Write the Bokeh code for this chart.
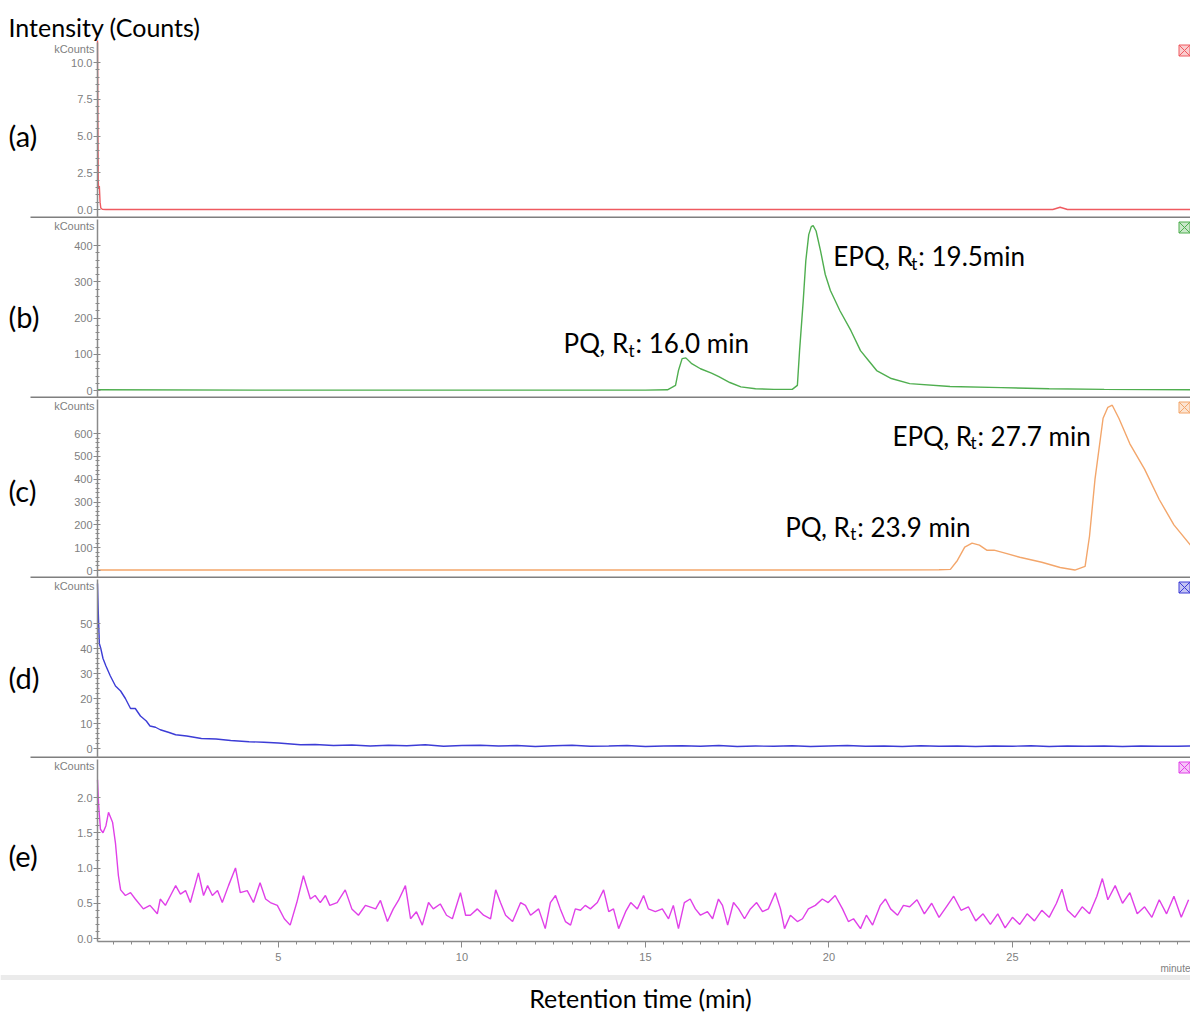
import numpy as np
from bokeh.plotting import figure
from bokeh.layouts import column
from bokeh.models import Range1d, Label, FixedTicker, NumeralTickFormatter, LinearAxis
from bokeh.embed import file_html
from bokeh.resources import INLINE

# ---------------- data ----------------
a_time = [0.07, 0.08, 0.09, 0.10, 0.12, 0.14, 0.16, 0.2, 0.3, 5, 10, 15, 20, 25, 26.1, 26.3, 26.5, 29.85]
a_counts = [11.5, 6.0, 2.0, 1.4, 1.6, 0.5, 0.1, 0.02, 0.0, 0.0, 0.0, 0.0, 0.0, 0.0, 0.0, 0.15, 0.0, 0.0]

b_time = [0.07, 5, 10, 15, 15.6, 15.82, 15.9, 16.0, 16.1, 16.25, 16.5, 16.8, 17.0, 17.3, 17.6, 18.0,
          18.5, 19.0, 19.14, 19.2, 19.3, 19.37, 19.45, 19.52, 19.57, 19.65, 19.77, 19.9, 20.04, 20.3,
          20.6, 20.86, 21.1, 21.3, 21.7, 22.2, 23.3, 24.7, 26.0, 27.5, 29.85]
b_counts = [2, 1, 1, 1, 2, 14, 55, 88, 90, 75, 60, 48, 38, 22, 10, 5,
            3, 3, 14, 110, 248, 358, 430, 452, 455, 440, 386, 320, 276, 220,
            165, 110, 80, 55, 33, 19, 11, 8, 5, 3, 2]

c_time = [0.07, 5, 10, 15, 20, 23.0, 23.31, 23.5, 23.7, 23.9, 24.1, 24.3, 24.5, 24.8, 25.2, 25.8,
          26.3, 26.7, 26.98, 27.1, 27.25, 27.47, 27.6, 27.72, 27.9, 28.2, 28.6, 29.0, 29.4, 29.85]
c_counts = [2, 2, 2, 2, 2, 3, 5, 44, 102, 120, 111, 89, 89, 76, 58, 36,
            13, 2, 18, 150, 400, 667, 715, 724, 667, 555, 444, 311, 200, 111]

d_time = [0.07, 0.09, 0.12, 0.16, 0.22, 0.3, 0.42, 0.56, 0.7, 0.83, 0.97, 1.1, 1.24, 1.4, 1.5, 1.65,
          1.78, 2.0, 2.2, 2.5, 2.9, 3.3, 3.7, 4.2, 4.6, 5.0, 5.6, 6.0, 6.5, 7.0, 7.5, 8.0, 8.5, 9.0,
          9.5, 10.0, 10.5, 11.0, 11.5, 12.0, 12.5, 13.0, 13.5, 14.0, 14.5, 15.0, 15.5, 16.0, 16.5,
          17.0, 17.5, 18.0, 18.5, 19.0, 19.5, 20.0, 20.5, 21.0, 21.5, 22.0, 22.5, 23.0, 23.5, 24.0,
          24.5, 25.0, 25.5, 26.0, 26.5, 27.0, 27.5, 28.0, 28.5, 29.0, 29.5, 29.85]
d_counts = [66, 55, 42, 40, 36, 33, 29, 25, 23, 20, 16, 16, 13, 11, 9, 8.5,
            7.5, 6.5, 5.5, 5.0, 4.0, 3.8, 3.2, 2.7, 2.5, 2.2, 1.5, 1.6, 1.2, 1.4, 1.0, 1.3, 1.1, 1.5,
            0.9, 1.2, 1.3, 1.0, 1.2, 0.8, 1.1, 1.3, 0.9, 1.0, 1.2, 0.8, 1.0, 1.1, 0.9,
            1.2, 0.8, 1.0, 0.9, 1.1, 0.8, 1.0, 1.2, 0.9, 1.0, 0.8, 1.1, 0.9, 1.0, 0.8,
            1.0, 0.9, 1.1, 0.8, 1.0, 0.9, 1.0, 0.8, 1.0, 0.9, 0.9, 1.0]

e_time = [0.07, 0.1, 0.15, 0.22, 0.3, 0.37, 0.48, 0.56, 0.64, 0.7, 0.83, 0.97, 1.1, 1.32, 1.5, 1.7,
          1.78, 1.92, 2.06, 2.2, 2.33, 2.47, 2.6, 2.82, 2.96, 3.07, 3.2, 3.34, 3.47, 3.64, 3.83, 3.96,
          4.15, 4.32, 4.5, 4.65, 4.78, 4.97, 5.16, 5.32, 5.5, 5.68, 5.87, 6.0, 6.14, 6.28, 6.4, 6.6,
          6.82, 7.0, 7.18, 7.37, 7.65, 7.78, 7.97, 8.13, 8.27, 8.46, 8.6, 8.76, 8.92, 9.09, 9.22,
          9.41, 9.58, 9.74, 9.96, 10.1, 10.23, 10.42, 10.59, 10.78, 10.92, 11.05, 11.19, 11.38, 11.6,
          11.73, 11.87, 12.09, 12.27, 12.41, 12.55, 12.68, 12.82, 12.96, 13.09, 13.23, 13.36, 13.5,
          13.69, 13.86, 14.0, 14.13, 14.27, 14.46, 14.6, 14.78, 14.95, 15.08, 15.27, 15.46, 15.63,
          15.76, 15.9, 16.06, 16.22, 16.36, 16.5, 16.69, 16.83, 16.99, 17.1, 17.24, 17.4, 17.54,
          17.7, 17.86, 18.03, 18.19, 18.35, 18.54, 18.68, 18.79, 18.95, 19.14, 19.28, 19.44, 19.63,
          19.82, 19.98, 20.17, 20.37, 20.53, 20.67, 20.86, 21.02, 21.19, 21.4, 21.54, 21.68, 21.87,
          22.03, 22.2, 22.4, 22.6, 22.8, 23.0, 23.2, 23.4, 23.6, 23.8, 24.0, 24.2, 24.4, 24.6, 24.8,
          25.0, 25.2, 25.4, 25.6, 25.8, 26.0, 26.2, 26.35, 26.5, 26.7, 26.9, 27.1, 27.3, 27.45,
          27.6, 27.8, 28.0, 28.2, 28.4, 28.6, 28.8, 29.0, 29.2, 29.4, 29.6, 29.8]
e_counts = [2.25, 1.9, 1.55, 1.5, 1.6, 1.79, 1.65, 1.35, 0.89, 0.69, 0.61, 0.65, 0.56, 0.42, 0.47, 0.35,
            0.56, 0.47, 0.61, 0.75, 0.63, 0.68, 0.51, 0.93, 0.61, 0.75, 0.61, 0.68, 0.51, 0.75, 1.0, 0.65,
            0.68, 0.51, 0.79, 0.56, 0.51, 0.47, 0.28, 0.19, 0.51, 0.89, 0.56, 0.61, 0.51, 0.61, 0.47, 0.51,
            0.69, 0.42, 0.33, 0.47, 0.42, 0.54, 0.24, 0.42, 0.54, 0.75, 0.28, 0.38, 0.19, 0.51, 0.42,
            0.49, 0.33, 0.28, 0.65, 0.33, 0.33, 0.42, 0.33, 0.28, 0.69, 0.51, 0.33, 0.24, 0.51,
            0.47, 0.33, 0.42, 0.14, 0.51, 0.61, 0.42, 0.24, 0.19, 0.42, 0.40, 0.47, 0.42,
            0.51, 0.69, 0.38, 0.42, 0.14, 0.38, 0.51, 0.42, 0.61, 0.42, 0.38, 0.42, 0.28,
            0.47, 0.14, 0.51, 0.56, 0.42, 0.33, 0.38, 0.28, 0.56, 0.47, 0.19, 0.51, 0.42,
            0.28, 0.42, 0.51, 0.38, 0.42, 0.65, 0.42, 0.14, 0.33, 0.24, 0.28, 0.42, 0.47,
            0.56, 0.51, 0.61, 0.42, 0.24, 0.28, 0.14, 0.33, 0.19, 0.47, 0.56, 0.42, 0.33,
            0.47, 0.45, 0.55, 0.35, 0.5, 0.3, 0.45, 0.6, 0.4, 0.45, 0.25, 0.35, 0.2, 0.35, 0.15,
            0.3, 0.2, 0.35, 0.25, 0.4, 0.3, 0.5, 0.7, 0.4, 0.3, 0.45, 0.35, 0.6, 0.85,
            0.55, 0.75, 0.5, 0.65, 0.35, 0.45, 0.3, 0.55, 0.35, 0.6, 0.3, 0.55]

panel_letters = ["(a)", "(b)", "(c)", "(d)", "(e)"]
a_ticks = [0, 2.5, 5, 7.5, 10]
b_ticks = [0, 100, 200, 300, 400]
c_ticks = [0, 100, 200, 300, 400, 500, 600]
d_ticks = [0, 10, 20, 30, 40, 50]
e_ticks = [0, 0.5, 1.0, 1.5, 2.0]
x_ticks = [5, 10, 15, 20, 25]

# ---------------- layout constants (pixels) ----------------
W = 1190
PXM = 36.70                 # pixels per minute
T_FIRST = 0.07
X0 = T_FIRST - 97 / PXM     # minute value at the left edge of the page
X_END = X0 + W / PXM


def tx(px):
    return X0 + px / PXM


FONT = "Lato"
AX_COL = "#8a8a8a"
LAB_COL = "#808080"
TICK_FONT = "Liberation Sans"


def make_panel(t, v, color, spec, ticks, minor_step, fmt, letter, letter_py, separator=True):
    top, h, zero, s, ax_top, sep = spec

    def vy(py):
        return (zero - py) / s

    p = figure(frame_width=W, frame_height=h,
               x_range=Range1d(X0, X_END), y_range=Range1d(vy(top + h), vy(top)),
               output_backend="svg", toolbar_location=None, x_axis_location=None,
               min_border_left=0, min_border_right=0, min_border_top=0, min_border_bottom=0)
    p.grid.visible = False
    p.outline_line_color = None
    p.background_fill_color = "white"
    p.border_fill_color = "white"

    if separator:
        p.line([tx(30), X_END], [vy(sep), vy(sep)], line_color="#7f7f7f", line_width=2)

    p.line(t, v, line_color=color, line_width=1.4)

    ax = p.yaxis[0]
    ax.fixed_location = T_FIRST
    ax.bounds = (vy(sep), vy(ax_top))
    minors = list(np.arange(ticks[0], ticks[-1] + minor_step * 0.5, minor_step))
    ax.ticker = FixedTicker(ticks=ticks, minor_ticks=minors)
    ax.formatter = NumeralTickFormatter(format=fmt)
    ax.axis_line_color = AX_COL
    ax.axis_line_width = 1.5
    ax.major_tick_line_color = AX_COL
    ax.minor_tick_line_color = AX_COL
    ax.major_tick_in = 3
    ax.major_tick_out = 4
    ax.minor_tick_in = 2
    ax.minor_tick_out = 2
    ax.major_label_text_font_size = "11px"
    ax.major_label_text_color = LAB_COL
    ax.major_label_text_font = TICK_FONT
    ax.major_label_standoff = 1

    # panel letter
    p.add_layout(Label(x=tx(8), y=vy(letter_py), text=letter,
                       text_font=FONT, text_font_size="29px", text_baseline="middle",
                       text_color="black"))
    # kCounts tag
    p.add_layout(Label(x=tx(94), y=vy(ax_top + 6), text="kCounts",
                       text_font=TICK_FONT, text_font_size="11px",
                       text_align="right", text_baseline="middle", text_color=LAB_COL))
    # small square icon at the top right
    p.scatter([tx(1184)], [vy(ax_top + 8)], marker="square_x", size=11,
              line_color=color, fill_color=color, fill_alpha=0.3, line_width=1)
    p._vy = vy
    return p


def add_rt(p, x, y, pre, post, w_pre):
    p.add_layout(Label(x=x, y=y, text=pre, text_font=FONT, text_font_size="26px",
                       text_baseline="middle", text_color="black"))
    p.add_layout(Label(x=x, y=y, x_offset=w_pre, y_offset=-7, text="t", text_font=FONT,
                       text_font_size="17px", text_baseline="middle", text_color="black"))
    p.add_layout(Label(x=x, y=y, x_offset=w_pre + 7, text=post, text_font=FONT,
                       text_font_size="26px", text_baseline="middle", text_color="black"))


# spec: frame top, frame height, y of zero, px per unit, axis top, separator y
spec_a = (0, 218, 209, 14.7, 42, 217)
spec_b = (218, 180, 390, 0.3625, 219, 397)
spec_c = (398, 180, 570, 0.2283, 399, 577)
spec_d = (578, 180, 748, 2.5, 579, 757)
spec_e = (758, 254, 938, 70.5, 759, 941)

pa = make_panel(a_time, a_counts, "#ef5a60", spec_a, a_ticks, 0.5, "0.0", panel_letters[0], 135)
pb = make_panel(b_time, b_counts, "#4fae4f", spec_b, b_ticks, 20, "0", panel_letters[1], 316)
pc = make_panel(c_time, c_counts, "#f3a66b", spec_c, c_ticks, 20, "0", panel_letters[2], 490)
pd = make_panel(d_time, d_counts, "#3c3cd6", spec_d, d_ticks, 2, "0", panel_letters[3], 677)
pe = make_panel(e_time, e_counts, "#e040e8", spec_e, e_ticks, 0.1, "0.0", panel_letters[4], 855,
                separator=False)

pa.add_layout(Label(x=tx(8), y=pa._vy(26), text="Intensity (Counts)",
                    text_font=FONT, text_font_size="25px", text_baseline="middle",
                    text_color="black"))

add_rt(pb, 20.12, 370, "EPQ, R", ": 19.5min", 78)
add_rt(pb, 12.77, 130, "PQ, R", ": 16.0 min", 65)
add_rt(pc, 21.73, 591, "EPQ, R", ": 27.7 min", 78)
add_rt(pc, 18.81, 191, "PQ, R", ": 23.9 min", 65)

# bottom time axis
xa = LinearAxis(fixed_location=pe._vy(941), bounds=(T_FIRST, X_END))
xa.ticker = FixedTicker(ticks=x_ticks, minor_ticks=list(np.arange(0.5, 30.0, 0.5)))
xa.axis_line_color = AX_COL
xa.axis_line_width = 1.5
xa.major_tick_line_color = AX_COL
xa.minor_tick_line_color = AX_COL
xa.major_tick_in = 0
xa.major_tick_out = 6
xa.minor_tick_in = 0
xa.minor_tick_out = 3
xa.major_label_text_font_size = "11px"
xa.major_label_text_color = LAB_COL
xa.major_label_text_font = TICK_FONT
xa.major_label_standoff = 5
pe.add_layout(xa, "below")

# light band at the bottom of the instrument screenshot
pe.line([X0, X_END], [pe._vy(977), pe._vy(977)], line_color="#ebebeb", line_width=5)

pe.add_layout(Label(x=tx(1190), y=pe._vy(968), text="minute",
                    text_font=TICK_FONT, text_font_size="10px",
                    text_align="right", text_baseline="middle", text_color=LAB_COL))
pe.add_layout(Label(x=tx(640), y=pe._vy(997), text="Retention time (min)",
                    text_font=FONT, text_font_size="25px", text_align="center",
                    text_baseline="middle", text_color="black"))

layout = column(pa, pb, pc, pd, pe, spacing=0)
open("out.html", "w").write(file_html(layout, INLINE))
